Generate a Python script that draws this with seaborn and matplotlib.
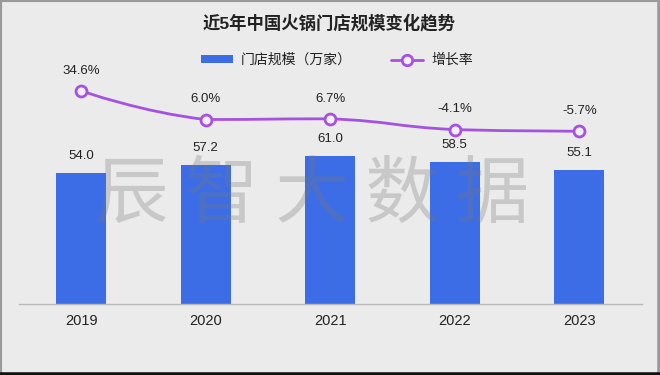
"""近5年中国火锅门店规模变化趋势: bar + smoothed growth line."""

import numpy as np
import pandas as pd
import matplotlib
matplotlib.use("Agg")
import matplotlib.pyplot as plt
import seaborn as sns
from matplotlib.path import Path
from matplotlib.patches import PathPatch, Patch
from matplotlib.lines import Line2D

years = ["2019", "2020", "2021", "2022", "2023"]
stores = [54.0, 57.2, 61.0, 58.5, 55.1]
growth = [34.6, 6.0, 6.7, -4.1, -5.7]

BAR_BLUE = "#3d6de6"
LINE_PURPLE = "#a552e0"
MARKER_FILL = "#f4eefa"
BG = "#ebebeb"
TEXT = "#222222"


def smooth_path(axis, xs, ys, smooth=0.5):
    """Bezier path through the points, echarts-like smoothing in screen space."""
    pts = axis.transData.transform(np.column_stack([xs, ys]))
    verts = [pts[0]]
    codes = [Path.MOVETO]
    cp0 = pts[0]
    for i in range(1, len(pts)):
        p = pts[i]
        prev = pts[i - 1]
        if i + 1 < len(pts):
            nxt = pts[i + 1]
            v = nxt - prev
            d0 = np.hypot(*(p - prev))
            d1 = np.hypot(*(nxt - p))
            r = d1 / (d0 + d1)
            cp1 = p - v * smooth * (1 - r)
            next_cp0 = p + v * smooth * r
        else:
            cp1 = p.copy()
            next_cp0 = p.copy()
        # keep control points inside the segment's vertical range (no overshoot)
        lo, hi = min(prev[1], p[1]), max(prev[1], p[1])
        cp0 = np.array([cp0[0], np.clip(cp0[1], lo, hi)])
        cp1 = np.array([cp1[0], np.clip(cp1[1], lo, hi)])
        verts += [cp0, cp1, p]
        codes += [Path.CURVE4] * 3
        cp0 = next_cp0
    data = axis.transData.inverted().transform(np.array(verts))
    return Path(data, codes)


def main():
    sns.set_theme(style="white")
    plt.rcParams["font.family"] = ["Liberation Sans", "Noto Sans CJK SC", "DejaVu Sans"]

    df = pd.DataFrame({"year": years, "stores": stores, "growth": growth})
    xs = np.arange(len(years))

    fig = plt.figure(figsize=(6.6, 3.75), dpi=100)
    fig.patch.set_facecolor(BG)
    ax = fig.add_axes([0.0288, 0.1893, 0.9432, 0.704])
    ax.patch.set_alpha(0)

    sns.barplot(data=df, x="year", y="stores", color=BAR_BLUE, width=0.4,
                saturation=1, linewidth=0, edgecolor="none", ax=ax)
    ax.set_xlim(-0.5, len(years) - 0.5)
    ax.set_ylim(0, 108.8)
    for x, v in zip(xs, stores):
        ax.annotate(f"{v:.1f}", (x, v), xytext=(0, 12.5), textcoords="offset points",
                    ha="center", va="center", fontsize=9.5, color=TEXT)

    ax.set_xticks(xs, labels=years)
    ax.tick_params(axis="x", length=0, pad=7, labelsize=10.5, labelcolor=TEXT)
    ax.set_yticks([])
    ax.set_xlabel("")
    ax.set_ylabel("")
    for side in ["top", "left", "right"]:
        ax.spines[side].set_visible(False)
    ax.spines["bottom"].set_color("#b8b8b8")
    ax.spines["bottom"].set_linewidth(1)

    # growth rate on a twin axis
    ax2 = ax.twinx()
    ax2.set_ylim(-178.5, 85.5)
    ax2.set_yticks([])
    for side in ax2.spines:
        ax2.spines[side].set_visible(False)

    curve = PathPatch(smooth_path(ax2, xs, growth), fill=False, edgecolor=LINE_PURPLE,
                      linewidth=2, capstyle="round", joinstyle="round", zorder=2)
    ax2.add_patch(curve)
    sns.scatterplot(x=xs, y=growth, ax=ax2, s=62, marker="o", color=MARKER_FILL,
                    edgecolor=LINE_PURPLE, linewidth=2, zorder=3, legend=False)
    ax2.set_ylim(-178.5, 85.5)
    for x, g in zip(xs, growth):
        ax2.annotate(f"{g:.1f}%", (x, g), xytext=(0, 14.5), textcoords="offset points",
                     ha="center", va="center", fontsize=9.5, color=TEXT)

    fig.text(0.4992, 0.941, "近5年中国火锅门店规模变化趋势", fontsize=12.5,
             fontweight="bold", ha="center", va="center", color=TEXT)

    handles = [
        Patch(facecolor=BAR_BLUE, edgecolor="none"),
        Line2D([], [], color=LINE_PURPLE, lw=2, marker="o", markersize=7.5,
               markerfacecolor=MARKER_FILL, markeredgecolor=LINE_PURPLE, markeredgewidth=2),
    ]
    fig.legend(handles, ["门店规模（万家）", "增长率"], loc="center",
               bbox_to_anchor=(0.51, 0.84), ncol=2, frameon=False, fontsize=10,
               handlelength=2.3, handleheight=0.5, handletextpad=0.6, columnspacing=2.8,
               labelcolor=TEXT)

    # watermark
    fig.text(0.473, 0.478, "辰 智 大 数 据", fontsize=53, color="#777777", alpha=0.3,
             ha="center", va="center", family=["Noto Sans CJK SC"], zorder=10)

    # frame around the picture
    fig.add_artist(Line2D([0, 1], [1, 1], transform=fig.transFigure, color="#9a9a9a", lw=3))
    fig.add_artist(Line2D([0, 0], [0, 1], transform=fig.transFigure, color="#9a9a9a", lw=3))
    fig.add_artist(Line2D([1, 1], [0, 1], transform=fig.transFigure, color="#9a9a9a", lw=4))
    fig.add_artist(Line2D([0, 1], [0, 0], transform=fig.transFigure, color="#111111", lw=4))

    fig.savefig("out.png", dpi=100, facecolor=BG)
    plt.close(fig)


if __name__ == "__main__":
    main()
